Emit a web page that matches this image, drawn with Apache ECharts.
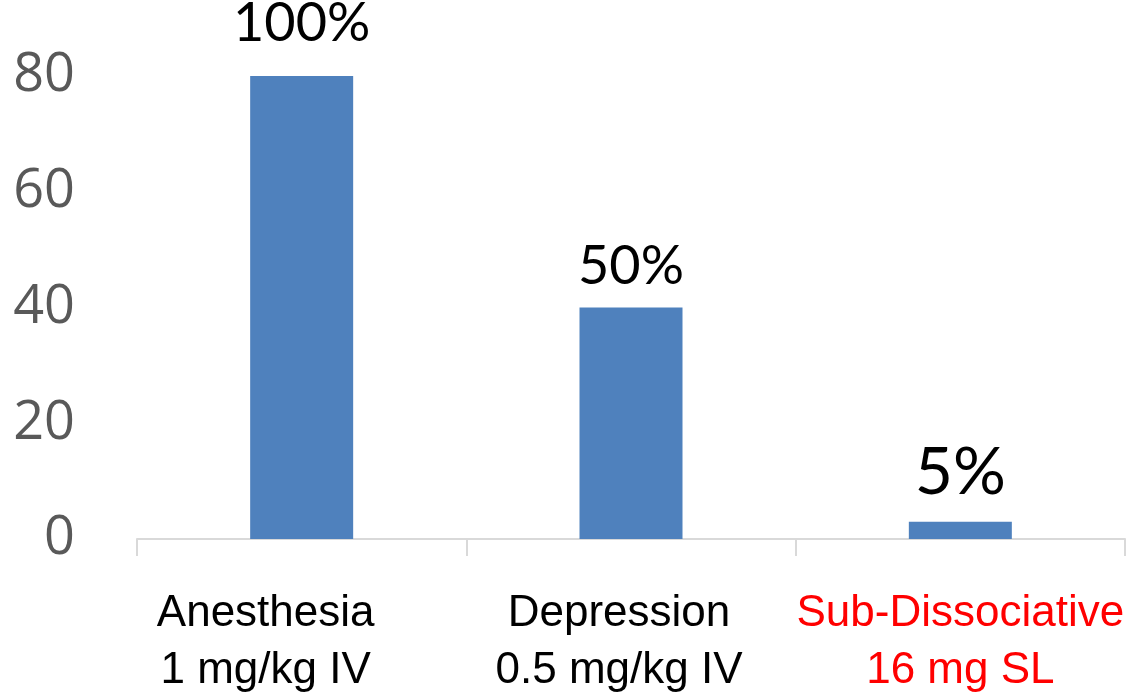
<!DOCTYPE html>
<html>
<head>
<meta charset="utf-8">
<script src="https://cdn.jsdelivr.net/npm/echarts@6/dist/echarts.min.js"></script>
<style>html,body{margin:0;padding:0;background:#fff}#c{width:1132px;height:695px}</style>
</head>
<body>
<div id="c"></div>
<script>
const categories = ['Anesthesia\n1 mg/kg IV', 'Depression\n0.5 mg/kg IV', 'Sub-Dissociative\n16 mg SL'];
const values = [80, 40, 3];
const valueLabels = ['100%', '50%', '5%'];
const yTicks = [0, 20, 40, 60, 80];

const labelStyles = ['a', 'b', 'r'];
const chart = echarts.init(document.getElementById('c'));
chart.setOption({
  animation: false,
  grid: { left: 137, right: 7, top: 76, bottom: 156, outerBoundsMode: 'none', containLabel: false },
  xAxis: {
    type: 'category',
    data: categories,
    axisLine: { show: true, lineStyle: { color: '#d9d9d9', width: 2 } },
    axisTick: { show: true, alignWithLabel: false, length: 17, lineStyle: { color: '#d9d9d9', width: 2 } },
    axisLabel: {
      margin: 46,
      interval: 0,
      fontFamily: 'Liberation Sans',
      fontSize: 44,
      lineHeight: 57,
      color: '#000',
      formatter: function (v, i) {
        const k = labelStyles[i];
        return v.split('\n').map(s => '{' + k + '|' + s + '}').join('\n');
      },
      rich: {
        a: { color: '#000', fontFamily: 'Liberation Sans', fontSize: 44, lineHeight: 57, padding: [0, 72, 0, 0] },
        b: { color: '#000', fontFamily: 'Liberation Sans', fontSize: 44, lineHeight: 57, padding: [0, 24, 0, 0] },
        r: { color: '#ff0000', fontFamily: 'Liberation Sans', fontSize: 44, lineHeight: 57 }
      }
    }
  },
  yAxis: {
    type: 'value',
    min: yTicks[0],
    max: yTicks[yTicks.length - 1],
    interval: 20,
    axisLine: { show: false },
    axisTick: { show: false },
    splitLine: { show: false },
    axisLabel: { margin: 62, fontFamily: 'Open Sans', fontSize: 54, color: '#595959' }
  },
  series: [{
    type: 'bar',
    barWidth: 103,
    itemStyle: { color: '#4f81bd' },
    data: values.map((v, i) => ({
      value: v,
      label: {
        show: true,
        position: 'top',
        distance: [25, 14, 16][i],
        formatter: valueLabels[i],
        fontFamily: 'Lato',
        fontSize: i === 2 ? 66 : 54,
        color: '#000'
      }
    }))
  }]
});
</script>
</body>
</html>
